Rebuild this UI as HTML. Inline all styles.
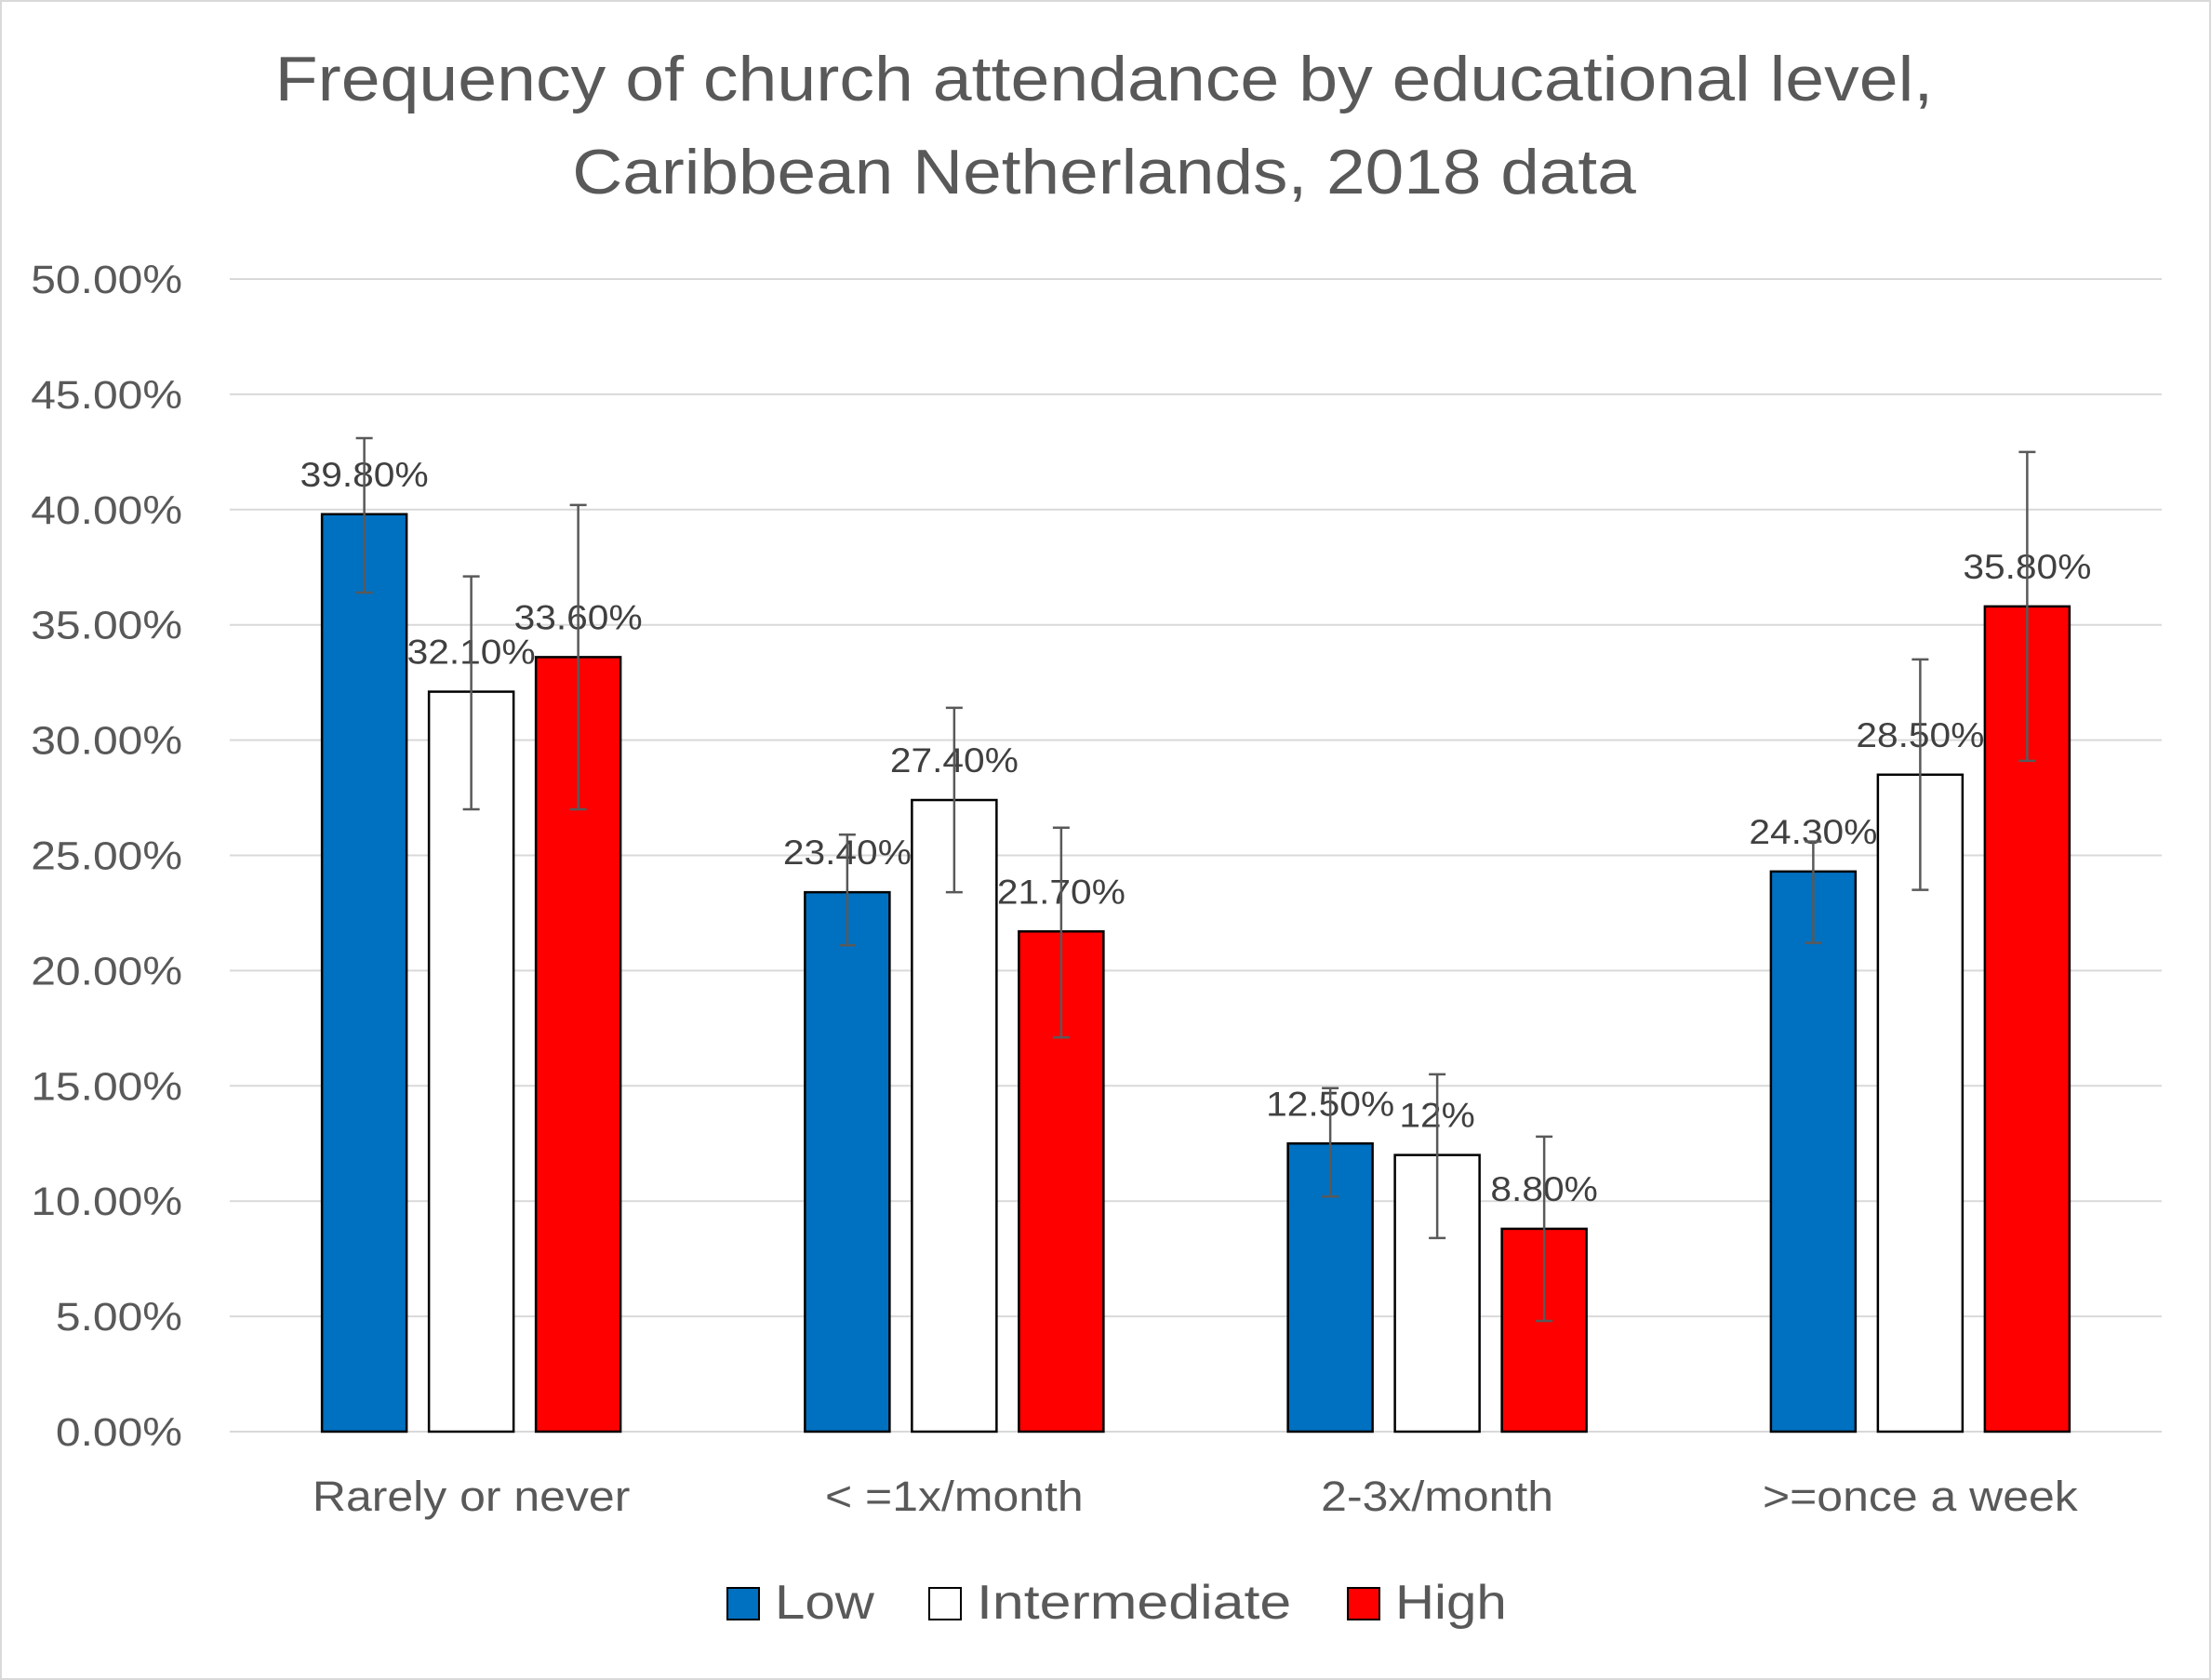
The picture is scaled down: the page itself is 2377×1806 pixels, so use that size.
<!DOCTYPE html>
<html><head><meta charset="utf-8"><style>
html,body{margin:0;padding:0;background:#fff;}
svg{display:block;font-family:"Liberation Sans",sans-serif;}
</style></head><body>
<svg id="chart" width="2377" height="1806" viewBox="0 0 2377 1806">
<rect x="1" y="1" width="2375" height="1804" fill="#fff" stroke="#d9d9d9" stroke-width="2"/>
<text class="st" data-f="1.107" x="1187" y="108" font-size="68" fill="#595959" text-anchor="middle">Frequency of church attendance by educational level,</text>
<text class="st" data-f="1.10" x="1187" y="208" font-size="68" fill="#595959" text-anchor="middle">Caribbean Netherlands, 2018 data</text>
<g id="grid"></g><g id="bars"></g><g id="labels"></g>
<g>
<rect x="782" y="1707" width="34" height="34" fill="#0070c0" stroke="#000" stroke-width="2"/>
<text class="st" data-f="1.12" x="833" y="1740" font-size="52" fill="#595959">Low</text>
<rect x="999" y="1707" width="34" height="34" fill="#fff" stroke="#000" stroke-width="2"/>
<text class="st" data-f="1.17" x="1050" y="1740" font-size="52" fill="#595959">Intermediate</text>
<rect x="1449" y="1707" width="34" height="34" fill="#f00" stroke="#000" stroke-width="2"/>
<text class="st" data-f="1.12" x="1500" y="1740" font-size="52" fill="#595959">High</text>
</g>
</svg>
<script>
const categories = ["Rarely or never", "< =1x/month", "2-3x/month", ">=once a week"];
const seriesNames = ["Low", "Intermediate", "High"];
const lowValues = [39.8, 23.4, 12.5, 24.3];
const intermediateValues = [32.1, 27.4, 12.0, 28.5];
const highValues = [33.6, 21.7, 8.8, 35.8];
const lowLabels = ["39.80%", "23.40%", "12.50%", "24.30%"];
const intermediateLabels = ["32.10%", "27.40%", "12%", "28.50%"];
const highLabels = ["33.60%", "21.70%", "8.80%", "35.80%"];
const lowErrHigh = [43.1, 25.9, 14.9, 25.6];
const lowErrLow = [36.4, 21.1, 10.2, 21.2];
const intermediateErrHigh = [37.1, 31.4, 15.5, 33.5];
const intermediateErrLow = [27.0, 23.4, 8.4, 23.5];
const highErrHigh = [40.2, 26.2, 12.8, 42.5];
const highErrLow = [27.0, 17.1, 4.8, 29.1];
const yTicks = [0, 5, 10, 15, 20, 25, 30, 35, 40, 45, 50];
const yTickLabels = ["0.00%","5.00%","10.00%","15.00%","20.00%","25.00%","30.00%","35.00%","40.00%","45.00%","50.00%"];

const NS = "http://www.w3.org/2000/svg";
const X0 = 247, X1 = 2324, Y0 = 1539, Y50 = 300;
const y = v => Y0 - (v / 50) * (Y0 - Y50);
const groupW = (X1 - X0) / categories.length;
const barW = 91, gap = 24;
const xBar = (ci, si) => X0 + groupW * (ci + 0.5) + (si - 1) * (barW + gap) - barW / 2;
function mk(tag, attrs, parent) { const e = document.createElementNS(NS, tag); for (const k in attrs) e.setAttribute(k, attrs[k]); parent.appendChild(e); return e; }
const grid = document.getElementById('grid'), bars = document.getElementById('bars'), labels = document.getElementById('labels');

yTicks.forEach((t, i) => {
  const l = mk('line', {x1: X0, x2: X1, y1: y(t), y2: y(t), stroke: '#d9d9d9', 'stroke-width': 2}, grid);
  
  
  const tx = mk('text', {x: 196, y: y(t) + 15, 'font-size': 43, fill: '#595959', 'text-anchor': 'end', class: 'st', 'data-f': 1.116}, grid);
  tx.textContent = yTickLabels[i];
  
  
});

categories.forEach((c, ci) => {
  const tx = mk('text', {x: X0 + groupW * (ci + 0.5), y: 1624, 'font-size': 45, fill: '#595959', 'text-anchor': 'middle', class: 'st', 'data-f': 1.11}, labels);
  tx.textContent = c;
  
  
});

const series = [
  {vals: lowValues, labs: lowLabels, hi: lowErrHigh, lo: lowErrLow, fill: '#0070c0'},
  {vals: intermediateValues, labs: intermediateLabels, hi: intermediateErrHigh, lo: intermediateErrLow, fill: '#ffffff'},
  {vals: highValues, labs: highLabels, hi: highErrHigh, lo: highErrLow, fill: '#ff0000'}
];
series.forEach((s, si) => {
  s.vals.forEach((v, ci) => {
    const x = xBar(ci, si);
    const r = mk('rect', {x: x, y: y(v), width: barW, height: Y0 - y(v), fill: s.fill, stroke: '#000', 'stroke-width': 2.5}, bars);
    
    
  });
});
series.forEach((s, si) => {
  s.vals.forEach((v, ci) => {
    const cx = xBar(ci, si) + barW / 2;
    const tx = mk('text', {x: cx, y: y(v) - 30, 'font-size': 37, fill: '#404040', 'text-anchor': 'middle', class: 'st', 'data-f': 1.10}, labels);
    tx.textContent = s.labs[ci];
    
    
    const g = mk('g', {stroke: '#595959', 'stroke-width': 2.5}, labels);
    
    
    mk('line', {x1: cx, x2: cx, y1: y(s.hi[ci]), y2: y(s.lo[ci])}, g);
    mk('line', {x1: cx - 9, x2: cx + 9, y1: y(s.hi[ci]), y2: y(s.hi[ci])}, g);
    mk('line', {x1: cx - 9, x2: cx + 9, y1: y(s.lo[ci]), y2: y(s.lo[ci])}, g);
  });
});
document.querySelectorAll('text.st').forEach(t => {
  const f = parseFloat(t.getAttribute('data-f'));
  const w = t.getComputedTextLength();
  if (w > 0) { t.setAttribute('textLength', w * f); t.setAttribute('lengthAdjust', 'spacingAndGlyphs'); }
});
</script>
</body></html>
